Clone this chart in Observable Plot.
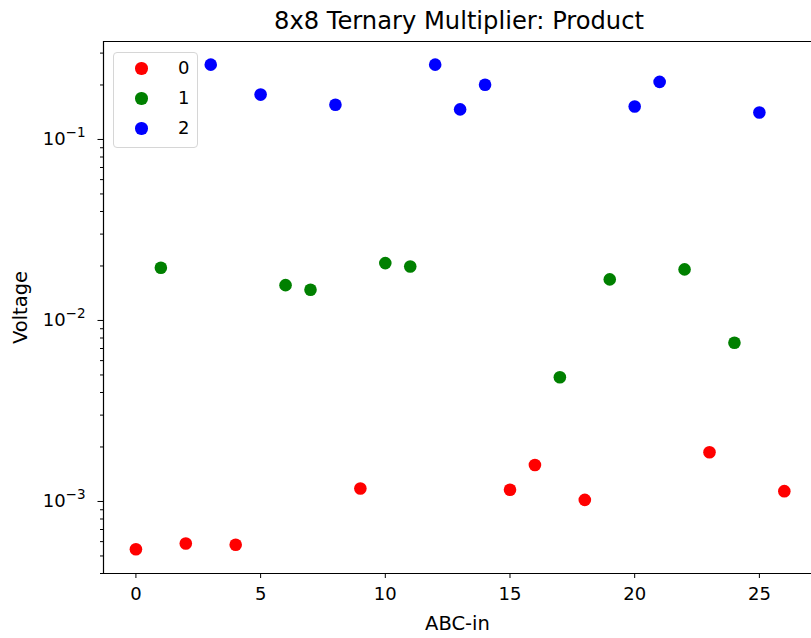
<!DOCTYPE html>
<html>
<head>
<meta charset="utf-8">
<script src="https://cdn.jsdelivr.net/npm/d3@7"></script>
<script src="https://cdn.jsdelivr.net/npm/@observablehq/plot@0.6"></script>
<style>
  html, body { margin: 0; padding: 0; background: #fff; }
  #wrap { position: relative; width: 811px; height: 638px; overflow: hidden; font-family: "DejaVu Sans", sans-serif; }
  #legend { position: absolute; left: 113px; top: 52px; width: 85px; height: 96px; box-sizing: border-box;
            border: 1px solid #d6d6d6; border-radius: 4px; background: rgba(255,255,255,0.8); }
  .row { position: absolute; left: 0; height: 30px; width: 100%; }
  .dot { position: absolute; left: 21px; top: 9px; width: 12.5px; height: 12.5px; border-radius: 50%; }
  .lab { position: absolute; left: 64px; top: 4px; font-size: 18px; line-height: 22px; color: #000; }
</style>
</head>
<body>
<div id="wrap"></div>
<script>
// Series names and colours
const seriesNames = ["0", "1", "2"];
const seriesColors = ["#ff0000", "#008000", "#0000ff"];

// Series 0 (red)
const x0 = [0, 2, 4, 9, 15, 16, 18, 23, 26];
const v0 = [5.45e-4, 5.86e-4, 5.77e-4, 1.18e-3, 1.16e-3, 1.59e-3, 1.02e-3, 1.87e-3, 1.14e-3];
// Series 1 (green)
const x1 = [1, 6, 7, 10, 11, 17, 19, 22, 24];
const v1 = [0.01954, 0.01567, 0.01478, 0.02075, 0.01987, 0.00486, 0.01686, 0.01915, 0.00753];
// Series 2 (blue)
const x2 = [3, 5, 8, 12, 13, 14, 20, 21, 25];
const v2 = [0.259, 0.177, 0.1556, 0.259, 0.1466, 0.2005, 0.152, 0.208, 0.141];

// Axis ticks
const xTicks = [0, 5, 10, 15, 20, 25];
const yMajor = [1e-3, 1e-2, 1e-1];
const yMajorBase = "10";
const yMajorExp = ["\u22123", "\u22122", "\u22121"];

const title = "8x8 Ternary Multiplier: Product";
const xLabel = "ABC-in";
const yLabel = "Voltage";

const xDomain = [-1.3, 27.09];
const yDomain = [4.0e-4, 0.3477];

const seriesX = [x0, x1, x2];
const seriesV = [v0, v1, v2];
const data = [];
seriesNames.forEach((s, i) => seriesX[i].forEach((x, j) => data.push({x, v: seriesV[i][j], s})));

const yMinor = [];
for (let e = -4; e <= -1; e++) for (let m = 2; m <= 9; m++) {
  const t = m * Math.pow(10, e);
  if (t >= yDomain[0] && t <= yDomain[1]) yMinor.push(t);
}

const labelText = d => yMajorBase + "^" + yMajorExp[yMajor.indexOf(d)];

const chart = Plot.plot({
  width: 811,
  height: 638,
  marginLeft: 103,
  marginRight: 0,
  marginTop: 41,
  marginBottom: 65,
  style: {fontFamily: "DejaVu Sans", fontSize: "18px", color: "#000", background: "#fff"},
  x: {domain: xDomain},
  y: {type: "log", domain: yDomain},
  color: {domain: seriesNames, range: seriesColors},
  marks: [
    Plot.axisX({ticks: xTicks, tickSize: 5, tickPadding: 9, tickFormat: d => String(d), label: null, fontSize: 18}),
    Plot.axisX({ticks: [], label: xLabel, labelAnchor: "center", labelArrow: "none", labelOffset: 56, fontSize: 19.5}),
    Plot.axisY({ticks: yMinor, tickSize: 3, tickFormat: () => "", label: null}),
    Plot.axisY({ticks: yMajor, tickSize: 5.5, tickPadding: 12.5, tickFormat: labelText, label: null, fontSize: 18}),
    Plot.axisY({ticks: [], label: yLabel, labelAnchor: "center", labelArrow: "none", labelOffset: 90, fontSize: 19.5}),
    Plot.dot(data, {x: "x", y: "v", fill: "s", r: 6.3, stroke: null}),
    Plot.ruleX([xDomain[0]], {stroke: "#000", strokeWidth: 1.2}),
    Plot.ruleY([yDomain[0], yDomain[1]], {stroke: "#000", strokeWidth: 1.2}),
    Plot.text([title], {frameAnchor: "top", dy: -13, dx: 1.5, lineAnchor: "bottom", fontSize: 24.2, fill: "#000"})
  ]
});

// Render the exponent of the major y tick labels as a raised, smaller tspan
const svgNS = "http://www.w3.org/2000/svg";
chart.querySelectorAll("text").forEach(t => {
  const s = t.textContent;
  const k = s.indexOf("^");
  if (k > 0 && t.children.length === 0) {
    const base = s.slice(0, k), exp = s.slice(k + 1);
    t.textContent = "";
    const a = document.createElementNS(svgNS, "tspan");
    a.textContent = base;
    const b = document.createElementNS(svgNS, "tspan");
    b.textContent = exp;
    b.setAttribute("font-size", "13.5");
    b.setAttribute("dy", "-8");
    t.appendChild(a);
    t.appendChild(b);
  }
});

const wrap = document.getElementById("wrap");
wrap.appendChild(chart);

const legend = document.createElement("div");
legend.id = "legend";
seriesNames.forEach((s, i) => {
  const row = document.createElement("div");
  row.className = "row";
  row.style.top = (i * 30.2) + "px";
  const dot = document.createElement("div");
  dot.className = "dot";
  dot.style.background = seriesColors[i];
  const lab = document.createElement("div");
  lab.className = "lab";
  lab.textContent = s;
  row.appendChild(dot);
  row.appendChild(lab);
  legend.appendChild(row);
});
wrap.appendChild(legend);
</script>
</body>
</html>
